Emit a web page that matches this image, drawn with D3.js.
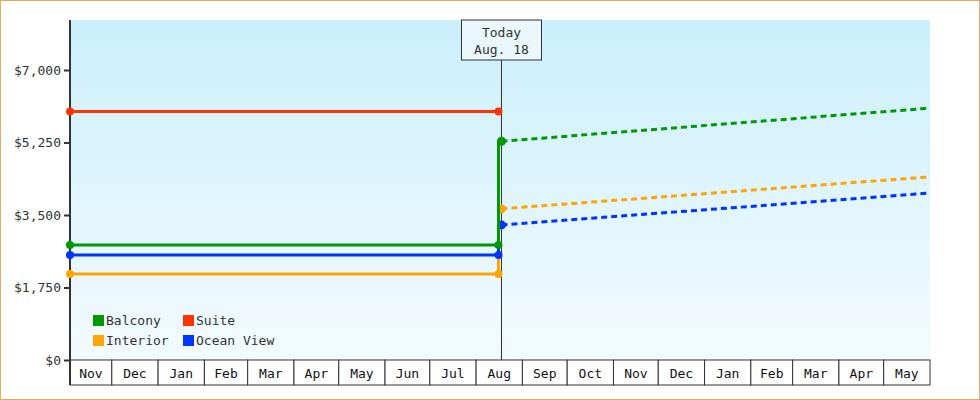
<!DOCTYPE html>
<html><head><meta charset="utf-8">
<script src="https://cdn.jsdelivr.net/npm/d3@7"></script>
<style>body{margin:0;background:#fff}svg{display:block;font-family:"DejaVu Sans Mono",monospace}</style>
</head><body><svg id="c" width="980" height="400"></svg>
<script>
const seriesNames = ["Balcony","Suite","Interior","Ocean View"];
const colors = ["#009900","#ff3300","#ffa500","#0033ff"];
const histValues = [2775, 6000, 2075, 2535];
const nowValues = [5280, null, 3650, 3260];
const endValues = [6080, null, 4420, 4030];
const yTicks = [0,1750,3500,5250,7000];
const monthLabels = ["Nov","Dec","Jan","Feb","Mar","Apr","May","Jun","Jul","Aug","Sep","Oct","Nov","Dec","Jan","Feb","Mar","Apr","May"];
const startDate = new Date(2023,10,3), endDate = new Date(2025,5,1);
const histEnd = new Date(2024,7,16), today = new Date(2024,7,18);

const svg = d3.select("#c");
const L=70,R=930,T=20,B=360;
const x = d3.scaleTime().domain([startDate,endDate]).range([L,R]);
const y = d3.scaleLinear().domain([0,7000]).range([B,70]);

svg.append("rect").attr("x",0.5).attr("y",0.5).attr("width",979).attr("height",399).attr("fill","#fff").attr("stroke","#e8a860");
const g = svg.append("defs").append("linearGradient").attr("id","bg").attr("x1",0).attr("y1",0).attr("x2",0).attr("y2",1);
g.append("stop").attr("offset","0").attr("stop-color","#cbeffc");
g.append("stop").attr("offset","1").attr("stop-color","#f3fbff");
svg.append("rect").attr("x",L).attr("y",T).attr("width",R-L).attr("height",B-T).attr("fill","url(#bg)");

// month band
const months = d3.timeMonths(d3.timeMonth.floor(startDate),endDate);
months.forEach((m,i)=>{
  const x0=Math.max(L,x(m)), x1=x(d3.timeMonth.offset(m,1));
  svg.append("rect").attr("x",x0).attr("y",B).attr("width",x1-x0).attr("height",25).attr("fill","#fff").attr("stroke","#333");
  svg.append("text").attr("x",(x0+x1)/2).attr("y",B+18).attr("text-anchor","middle").attr("font-size",13).attr("fill","#111").text(monthLabels[i]);
});

// y axis
const ya = svg.append("g").attr("transform",`translate(${L},0)`).call(d3.axisLeft(y).tickValues(yTicks).tickSize(6).tickFormat(d=>"$"+d3.format(",")(d)));
ya.select(".domain").remove();
ya.selectAll("line").attr("stroke","#333").attr("stroke-width",2);
ya.selectAll("text").attr("font-family","DejaVu Sans Mono").attr("font-size",13).attr("fill","#333");
svg.append("line").attr("x1",L).attr("x2",L).attr("y1",T).attr("y2",B+25).attr("stroke","#333").attr("stroke-width",2);

// today line
const tx = x(today);
svg.append("line").attr("x1",tx).attr("x2",tx).attr("y1",60).attr("y2",B).attr("stroke","#333");
svg.append("rect").attr("x",tx-40).attr("y",20).attr("width",80).attr("height",40).attr("fill","#eaf8fd").attr("stroke","#333");
svg.append("text").attr("x",tx).attr("y",37).attr("text-anchor","middle").attr("font-size",13).attr("fill","#333").text("Today");
svg.append("text").attr("x",tx).attr("y",54).attr("text-anchor","middle").attr("font-size",13).attr("fill","#333").text("Aug. 18");

const line = d3.line().x(d=>x(d[0])).y(d=>y(d[1]));
[1,2,3,0].forEach(i=>{
  const c=colors[i];
  const pts=[[startDate,histValues[i]],[histEnd,histValues[i]]];
  if(nowValues[i]!=null) pts.push([histEnd,nowValues[i]]);
  svg.append("path").attr("d",line(pts)).attr("fill","none").attr("stroke",c).attr("stroke-width",3);
  if(nowValues[i]!=null){
    svg.append("path").attr("d",line([[today,nowValues[i]],[endDate,endValues[i]]])).attr("fill","none").attr("stroke",c).attr("stroke-width",3).attr("stroke-dasharray","6,4");
    svg.append("circle").attr("cx",x(today)).attr("cy",y(nowValues[i])).attr("r",4.5).attr("fill",c);
  }
  [[startDate,histValues[i]],[histEnd,histValues[i]]].forEach(p=>svg.append("circle").attr("cx",x(p[0])).attr("cy",y(p[1])).attr("r",4).attr("fill",c));
});

// legend
const leg=[[0,93,320],[1,183,320],[2,93,340],[3,183,340]];
leg.forEach(([i,lx,ly])=>{
  svg.append("rect").attr("x",lx).attr("y",ly-5).attr("width",11).attr("height",11).attr("fill",colors[i]);
  svg.append("text").attr("x",lx+13).attr("y",ly+5).attr("font-size",13).attr("fill","#333").text(seriesNames[i]);
});
</script></body></html>
